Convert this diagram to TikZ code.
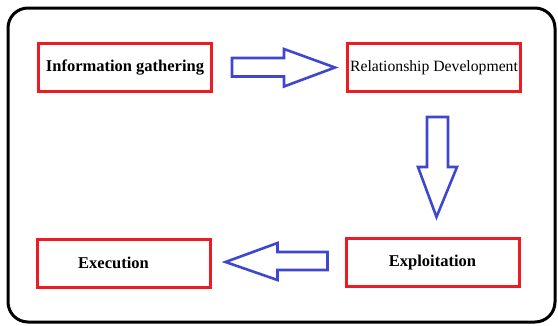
\documentclass[tikz,border=0pt]{standalone}
\usepackage{fontspec}
\setmainfont{Liberation Serif}
\usepackage{xcolor}
\usetikzlibrary{calc}
\definecolor{BoxRed}{RGB}{237,28,36}
\definecolor{ArrBlue}{RGB}{63,72,204}

\begin{document}
\begin{tikzpicture}[x=1pt,y=-1pt,
phase/.style={draw=BoxRed,line width=3pt,minimum width=173pt,minimum height=48pt,inner sep=0pt,align=center,font=\fontsize{16.5}{18}\selectfont},
blockarr/.style={draw=ArrBlue,line width=2.6pt,line join=miter}]
\useasboundingbox (0,0) rectangle (558,325);
\draw[line width=3pt,rounded corners=20pt] (8,8) rectangle (555,322);
\node[phase] (info) at (125,67.5) {\textbf{Information gathering}};
\node[phase,font=\fontsize{15.7}{18}\selectfont] (rel) at (434,67.5) {Relationship Development};
\node[phase] (expl) at (432.5,262.5) {\textbf{Exploitation}};
\node[phase] (exec) at (123.5,263) {\textbf{Execution}\hspace*{20pt}};
% right
\draw[blockarr] ($(info.east)+(19,-9.5)$) -- ++(52,0) -- ++(0,-9) -- ($(rel.west)+(-11,0)$)
  -- ($(info.east)+(71,19)$) -- ++(0,-10) -- ++(-52,0) -- cycle;
% down
\draw[blockarr] ($(rel.south)+(-7,24)$) -- ++(21,0) -- ++(0,50) -- ++(9,0) -- ($(expl.north)+(4,-20)$)
  -- ($(rel.south)+(-16,74)$) -- ++(9,0) -- cycle;
% left
\draw[blockarr] ($(expl.west)+(-17,-10.5)$) -- ++(0,18) -- ++(-50,0) -- ++(0,10) -- ($(exec.east)+(14,-1)$)
  -- ($(expl.west)+(-67,-19.5)$) -- ++(0,9) -- cycle;
\end{tikzpicture}
\end{document}
